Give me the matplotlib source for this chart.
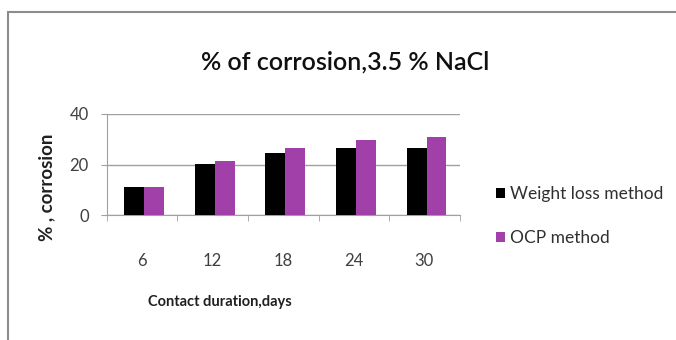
import matplotlib
matplotlib.use("Agg")
import matplotlib.pyplot as plt
from matplotlib.patches import Rectangle
import numpy as np

categories = ["6", "12", "18", "24", "30"]
weight_loss = [11.0, 20.1, 24.4, 26.7, 26.7]
ocp = [11.0, 21.4, 26.7, 29.8, 30.8]
series_names = ["Weight loss method", "OCP method"]
colors = ["#000000", "#A040A8"]

plt.rcParams['font.family'] = ['Liberation Sans Narrow', 'DejaVu Sans Condensed', 'Lato', 'DejaVu Sans']

fig = plt.figure(figsize=(6.76, 3.4), dpi=100)
fig.patch.set_facecolor("white")

# outer chart border (cropped at right and bottom)
fig.add_artist(Rectangle((8/676, -0.1), 1.0, (1 - 12/340) + 0.1, transform=fig.transFigure,
                         fill=False, edgecolor="#8c8c8c", linewidth=1.5))

ax = fig.add_axes([106.7/676, 1 - 215/340, 353/676, 101/340])
x = np.arange(len(categories))
w = 0.283
ax.bar(x - w/2 + 0.03, weight_loss, width=w, color=colors[0], label=series_names[0], zorder=3)
ax.bar(x + w/2 + 0.03, ocp, width=w, color=colors[1], label=series_names[1], zorder=3)

ax.set_xlim(-0.5, len(categories) - 0.5)
ax.set_ylim(0, 40)
ax.set_yticks([0, 20, 40])
ax.set_yticklabels(["0", "20", "40"], fontsize=12, color="#404040")
ax.set_xticks(x)
ax.set_xticklabels(categories, fontsize=12, color="#404040")
ax.tick_params(axis='x', length=0, pad=27)
ax.set_xticks(np.arange(-0.5, len(categories), 1.0), minor=True)
ax.tick_params(axis='x', which='minor', length=4, direction='out', color="#a0a0a0")
ax.tick_params(axis='y', length=4, direction='out', color="#a0a0a0", pad=9)
ax.grid(axis='y', color="#a0a0a0", linewidth=1, zorder=0)
for s in ["top", "right"]:
    ax.spines[s].set_visible(False)
ax.spines["left"].set_color("#a0a0a0")
ax.spines["bottom"].set_color("#a0a0a0")

fig.text(220/676, 1 - 302/340, "Contact duration,days", fontsize=10.5, fontweight="bold",
         color="#202020", ha="center", va="center")
fig.text(47/676, 1 - 187/340, "% , corrosion", fontsize=13.5, fontweight="bold",
         color="#202020", ha="center", va="center", rotation=90)

fig.text(345/676, 1 - 62/340, "% of corrosion,3.5 % NaCl", fontsize=18, fontweight="semibold",
         ha="center", va="center", color="#101010")

leg = ax.legend(loc="center left", bbox_to_anchor=(480/676, 1 - 216/340), bbox_transform=fig.transFigure,
                frameon=False, fontsize=12.5, handlelength=0.55, handleheight=0.55, handletextpad=0.3,
                labelspacing=1.6, labelcolor="#303030")

fig.savefig("out.png", dpi=100)
